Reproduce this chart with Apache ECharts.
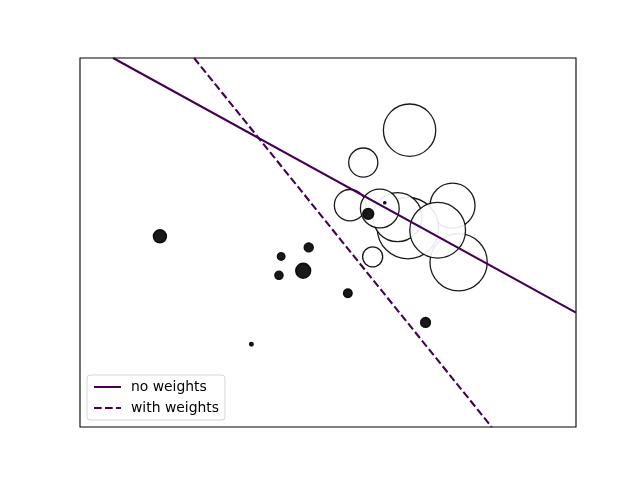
<!DOCTYPE html>
<html>
<head>
<meta charset="utf-8">
<script src="https://cdn.jsdelivr.net/npm/echarts@6/dist/echarts.min.js"></script>
<style>
    html, body { margin: 0; padding: 0; background: #fff; }
    #chart { width: 640px; height: 480px; }
</style>
</head>
<body>
<div id="chart"></div>
<script>
// 样本点（类别 +1，权重大，白色）
var whiteX = [2.76, 1.98, 2.87, 1.95, 0.90, 1.14, 1.76, 1.44, 2.49, 1.31];
var whiteY = [1.40, 3.24, 0.02, 0.85, 1.41, 2.45, 1.12, 1.33, 0.80, 0.15];
var whiteW = [1050, 1420, 1700, 1950, 510, 440, 1250, 780, 1610, 210];

// 样本点（类别 -1，黑色）
var blackX = [-2.55, 0.86, 2.27, 0.05, 1.53, 0.15, -0.89, -0.35, 1.23, -0.39];
var blackY = [0.65, -0.74, -1.45, -0.19, 1.47, 0.38, -1.98, 0.16, 1.20, -0.30];
var blackW = [90, 39, 51, 118, 3, 43, 7, 30, 63, 36];

// 决策边界（两端点）
var noWeightsLine = [[-3.40, 5], [5, -1.21]];
var withWeightsLine = [[-1.93, 5], [3.47, -4]];

var axisRange = [-4, 5];
var lineColor = '#440154';

function points(xs, ys, ws) {
    return xs.map(function (x, i) { return [x, ys[i], ws[i]]; });
}

// 权重 -> 直径(px)，与 matplotlib 的 s (pt^2) 一致
function weightSize(v) {
    return Math.sqrt(v[2]) * 100 / 72;
}

var myChart = echarts.init(document.getElementById('chart'));

var option = {
    animation: false,
    backgroundColor: '#fff',
    grid: {
        left: 80,
        top: 58,
        width: 496,
        height: 369,
        show: true,
        borderColor: '#000',
        borderWidth: 1.1,
        backgroundColor: 'transparent'
    },
    xAxis: {
        type: 'value',
        min: axisRange[0],
        max: axisRange[1],
        axisLine: { show: false },
        axisTick: { show: false },
        axisLabel: { show: false },
        splitLine: { show: false }
    },
    yAxis: {
        type: 'value',
        min: axisRange[0],
        max: axisRange[1],
        axisLine: { show: false },
        axisTick: { show: false },
        axisLabel: { show: false },
        splitLine: { show: false }
    },
    legend: {
        orient: 'vertical',
        left: 87,
        bottom: 60,
        data: ['no weights', 'with weights'],
        itemWidth: 27,
        itemHeight: 14,
        itemGap: 7,
        padding: [5, 6, 5, 6],
        borderColor: '#d6d6d6',
        borderWidth: 1,
        borderRadius: 3,
        backgroundColor: 'rgba(255,255,255,0.8)',
        itemStyle: { opacity: 0 },
        textStyle: {
            fontFamily: 'DejaVu Sans',
            fontSize: 13.9,
            lineHeight: 14,
            color: '#000',
            padding: [0, 0, 0, 5]
        }
    },
    series: [
        {
            name: 'pos',
            type: 'scatter',
            data: points(whiteX, whiteY, whiteW),
            symbolSize: weightSize,
            itemStyle: {
                color: '#fff',
                opacity: 0.9,
                borderColor: '#000',
                borderWidth: 1.3
            },
            z: 2
        },
        {
            name: 'neg',
            type: 'scatter',
            data: points(blackX, blackY, blackW),
            symbolSize: weightSize,
            itemStyle: {
                color: '#000',
                opacity: 0.9,
                borderColor: '#000',
                borderWidth: 1.3
            },
            z: 3
        },
        {
            name: 'no weights',
            type: 'line',
            data: noWeightsLine,
            symbol: 'none',
            lineStyle: { color: lineColor, width: 2.1, type: 'solid' },
            itemStyle: { color: lineColor },
            z: 4
        },
        {
            name: 'with weights',
            type: 'line',
            data: withWeightsLine,
            symbol: 'none',
            lineStyle: { color: lineColor, width: 2.1, type: [7.7, 3.3] },
            itemStyle: { color: lineColor },
            z: 4
        }
    ]
};

myChart.setOption(option);
</script>
</body>
</html>
